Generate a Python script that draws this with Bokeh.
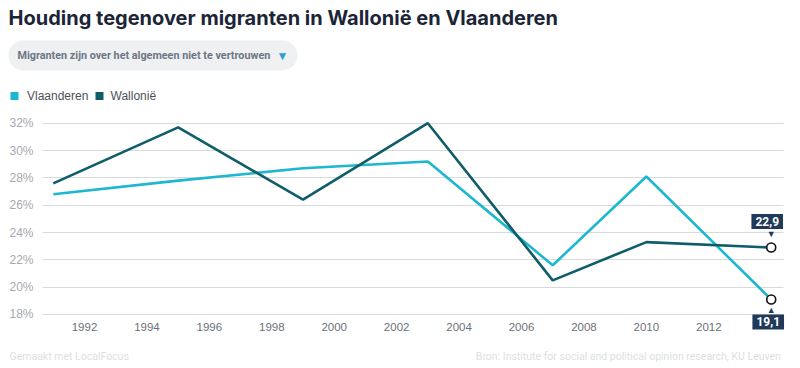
from bokeh.plotting import figure
from bokeh.models import (Label, BoxAnnotation, FixedTicker, PrintfTickFormatter,
                          Range1d, ColumnDataSource)
from bokeh.embed import file_html
from bokeh.resources import INLINE

# ---------------- data ----------------
years = [1991, 1995, 1999, 2003, 2007, 2010, 2014]
vlaanderen = [26.8, 27.8, 28.7, 29.2, 21.6, 28.1, 19.1]
wallonie = [27.6, 31.7, 26.4, 32.0, 20.5, 23.3, 22.9]
x_ticks = [1992, 1994, 1996, 1998, 2000, 2002, 2004, 2006, 2008, 2010, 2012]
y_ticks = [18, 20, 22, 24, 26, 28, 30, 32]
series_names = ["Vlaanderen", "Wallonië"]
title_text = "Houding tegenover migranten in Wallonië en Vlaanderen"
dropdown_text = "Migranten zijn over het algemeen niet te vertrouwen"
footer_left = "Gemaakt met LocalFocus"
footer_right = "Bron:  Institute for social and political opinion research, KU Leuven"

C_VL = "#1db7cf"
C_WA = "#0e5d69"
C_NAVY = "#223a5a"
C_TITLE = "#1b2537"
W, H = 800, 368

# the whole canvas is the plot frame; the chart area sits in its lower part
p = figure(width=W, height=H, output_backend="svg", toolbar_location=None,
           x_range=Range1d(1989.309, 2014.938), y_range=Range1d(14.047, 40.983),
           min_border=0, min_border_left=0, min_border_right=0,
           min_border_top=0, min_border_bottom=0)
p.outline_line_color = None
p.xaxis.ticker = FixedTicker(ticks=x_ticks)
p.yaxis.ticker = FixedTicker(ticks=y_ticks)
p.yaxis.formatter = PrintfTickFormatter(format="%d%%")
for ax in (p.xaxis[0], p.yaxis[0]):
    ax.axis_line_color = None
    ax.major_tick_line_color = None
    ax.minor_tick_line_color = None
    ax.major_tick_out = 0
    ax.major_tick_in = 0
    ax.major_label_text_font = "Liberation Sans"
p.xaxis.major_label_text_font_size = "11.5px"
p.yaxis.major_label_text_font_size = "12px"
p.xaxis.major_label_text_color = "#6c7178"
p.yaxis.major_label_text_color = "#a4a9af"
p.xaxis.major_label_standoff = -46
p.yaxis.major_label_standoff = -33
p.xgrid.grid_line_color = None
p.ygrid.grid_line_color = "#d8dbde"
p.ygrid.grid_line_width = 1
grid_span = (1990.654, 2014.397)
try:
    p.ygrid.cross_bounds = grid_span
except AttributeError:
    p.ygrid.grid_line_color = None
    p.segment(x0=[grid_span[0]] * len(y_ticks), x1=[grid_span[1]] * len(y_ticks),
              y0=y_ticks, y1=y_ticks, line_color="#d8dbde", line_width=1)

src = ColumnDataSource(dict(x=years, vl=vlaanderen, wa=wallonie))
p.line("x", "vl", source=src, line_color=C_VL, line_width=2.6)
p.line("x", "wa", source=src, line_color=C_WA, line_width=2.6)
p.scatter([years[-1], years[-1]], [vlaanderen[-1], wallonie[-1]], size=9,
          fill_color="white", line_color="#111111", line_width=1.6)


def fmt(v):
    return f"{v:.1f}".replace(".", ",")


for val, xoff, off, ptr, poff in ((wallonie[-1], -4, 26, "▼", 14),
                                  (vlaanderen[-1], -3, -22.5, "▲", -11)):
    p.add_layout(Label(x=years[-1], y=val, text=fmt(val), x_offset=xoff, y_offset=off,
                       text_align="center", text_baseline="middle",
                       text_color="white", text_font="Roboto", text_font_style="bold",
                       text_font_size="12px", background_fill_color=C_NAVY,
                       padding=(4, 3)))
    p.add_layout(Label(x=years[-1], y=val, text=ptr, y_offset=poff,
                       text_align="center", text_baseline="middle",
                       text_color=C_NAVY, text_font_size="9px"))


def clabel(x, y, text, **kw):
    p.add_layout(Label(x=x, y=y, x_units="canvas", y_units="canvas", text=text,
                       text_baseline="middle", **kw))


def cbox(l, r, t, b, **kw):
    p.add_layout(BoxAnnotation(left=l, right=r, top=t, bottom=b,
                               left_units="canvas", right_units="canvas",
                               top_units="canvas", bottom_units="canvas",
                               fill_alpha=1, line_color=None, level="underlay", **kw))


# header
clabel(8, 17.5, title_text, text_font="Inter", text_font_style="bold",
       text_font_size="20px", text_color=C_TITLE)
cbox(8, 297, 40, 70, fill_color="#eef0f2", border_radius=15)
clabel(17, 55, dropdown_text, text_font="Roboto", text_font_style="bold",
       text_font_size="10.8px", text_color="#6d7684")
clabel(282, 55, "▼", text_font_size="12px", text_color="#2c9fd6", text_align="center")
for l, name, col, tx in ((10, series_names[0], C_VL, 26.5),
                         (95, series_names[1], C_WA, 110)):
    cbox(l, l + 8, 91.5, 99.5, fill_color=col)
    clabel(tx, 95.5, name, text_font="Liberation Sans", text_font_size="12px",
           text_color="#4c5259")

# footer
clabel(9, 356, footer_left, text_font="Roboto", text_font_size="10.5px",
       text_color="#dcdfe2")
clabel(783, 356, footer_right, text_font="Roboto", text_font_size="10.5px",
       text_color="#dcdfe2", text_align="right")

open("out.html", "w").write(file_html(p, INLINE))
